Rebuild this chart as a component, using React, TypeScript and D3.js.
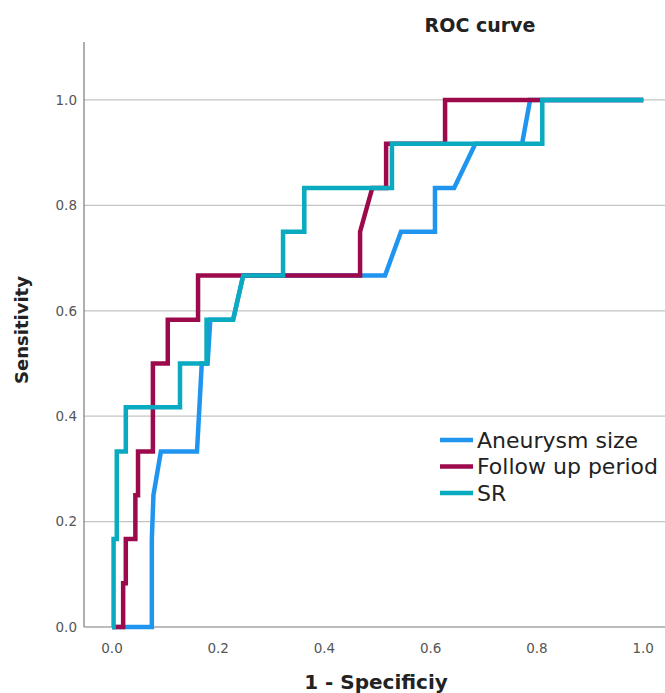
import React, { useRef, useEffect } from 'react'
import * as d3 from 'd3'

// ROC points (1 - specificity, sensitivity)
const fprAneurysm = [0, 0.075, 0.075, 0.078, 0.092, 0.16, 0.169, 0.18, 0.185, 0.228, 0.247, 0.514, 0.544, 0.608, 0.608, 0.644, 0.684, 0.772, 0.787, 1.0]
const tprAneurysm = [0, 0, 0.167, 0.25, 0.333, 0.333, 0.5, 0.5, 0.583, 0.583, 0.667, 0.667, 0.75, 0.75, 0.833, 0.833, 0.917, 0.917, 1.0, 1.0]

const fprFollowUp = [0, 0.021, 0.021, 0.026, 0.026, 0.044, 0.044, 0.049, 0.049, 0.077, 0.077, 0.105, 0.105, 0.162, 0.162, 0.467, 0.467, 0.49, 0.516, 0.516, 0.627, 0.627, 1.0]
const tprFollowUp = [0, 0, 0.083, 0.083, 0.167, 0.167, 0.25, 0.25, 0.333, 0.333, 0.5, 0.5, 0.583, 0.583, 0.667, 0.667, 0.75, 0.833, 0.833, 0.917, 0.917, 1.0, 1.0]

const fprSR = [0, 0.003, 0.003, 0.009, 0.009, 0.026, 0.026, 0.128, 0.128, 0.178, 0.178, 0.228, 0.247, 0.322, 0.322, 0.362, 0.362, 0.527, 0.527, 0.81, 0.81, 1.0]
const tprSR = [0, 0, 0.167, 0.167, 0.333, 0.333, 0.417, 0.417, 0.5, 0.5, 0.583, 0.583, 0.667, 0.667, 0.75, 0.75, 0.833, 0.833, 0.917, 0.917, 1.0, 1.0]

const seriesNames = ['Aneurysm size', 'Follow up period', 'SR']
const seriesColors = ['#1f95ef', '#9c0a4c', '#0aaac0']
const xTicks = [0, 0.2, 0.4, 0.6, 0.8, 1.0]
const yTicks = [0, 0.2, 0.4, 0.6, 0.8, 1.0]

const W = 665
const H = 693

export default function App() {
  const svgRef = useRef(null)

  useEffect(() => {
    const svg = d3.select(svgRef.current)
    svg.selectAll('*').remove()

    const x = d3.scaleLinear().domain([-0.0527, 1.041]).range([84, 665])
    const y = d3.scaleLinear().domain([0, 1.11]).range([627, 42])
    const font = '"DejaVu Sans", sans-serif'

    // grid
    svg.append('g').selectAll('line').data(yTicks.filter(d => d > 0)).enter()
      .append('line')
      .attr('x1', x.range()[0]).attr('x2', x.range()[1])
      .attr('y1', d => y(d)).attr('y2', d => y(d))
      .attr('stroke', '#c4c4c4').attr('stroke-width', 1.3)

    // axes lines
    svg.append('line').attr('x1', x.range()[0]).attr('x2', x.range()[0])
      .attr('y1', y.range()[1]).attr('y2', y(0))
      .attr('stroke', '#7a7a7a').attr('stroke-width', 1.2)
    svg.append('line').attr('x1', x.range()[0]).attr('x2', x.range()[1])
      .attr('y1', y(0)).attr('y2', y(0))
      .attr('stroke', '#7a7a7a').attr('stroke-width', 1.2)

    // tick labels
    svg.append('g').selectAll('text').data(yTicks).enter()
      .append('text')
      .attr('x', 77).attr('y', d => y(d)).attr('dy', '0.35em')
      .attr('text-anchor', 'end')
      .attr('font-family', font).attr('font-size', 13.5).attr('fill', '#555')
      .text(d => d3.format('.1f')(d))
    svg.append('g').selectAll('text').data(xTicks).enter()
      .append('text')
      .attr('x', d => x(d)).attr('y', 653)
      .attr('text-anchor', 'middle')
      .attr('font-family', font).attr('font-size', 13.5).attr('fill', '#555')
      .text(d => d3.format('.1f')(d))

    // titles
    svg.append('text').attr('x', 480).attr('y', 32).attr('text-anchor', 'middle')
      .attr('font-family', font).attr('font-weight', 'bold').attr('font-size', 19).attr('fill', '#222')
      .text('ROC curve')
    svg.append('text').attr('x', 376).attr('y', 689).attr('text-anchor', 'middle')
      .attr('font-family', font).attr('font-weight', 'bold').attr('font-size', 20).attr('fill', '#222')
      .text('1 - Specificiy')
    svg.append('text').attr('transform', 'translate(28,330) rotate(-90)').attr('text-anchor', 'middle')
      .attr('font-family', font).attr('font-weight', 'bold').attr('font-size', 18).attr('fill', '#222')
      .text('Sensitivity')

    // curves
    const series = [
      d3.zip(fprAneurysm, tprAneurysm),
      d3.zip(fprFollowUp, tprFollowUp),
      d3.zip(fprSR, tprSR),
    ]
    const line = d3.line().x(d => x(d[0])).y(d => y(d[1]))
    svg.append('g').selectAll('path').data(series).enter()
      .append('path')
      .attr('d', d => line(d))
      .attr('fill', 'none')
      .attr('stroke', (d, i) => seriesColors[i])
      .attr('stroke-width', 4.5)
      .attr('stroke-linejoin', 'miter')

    // legend
    const lg = svg.append('g').attr('transform', 'translate(440,440)')
    const items = lg.selectAll('g').data(seriesNames).enter()
      .append('g').attr('transform', (d, i) => 'translate(0,' + i * 26.5 + ')')
    items.append('line').attr('x1', 0).attr('x2', 33).attr('y1', 0).attr('y2', 0)
      .attr('stroke', (d, i) => seriesColors[i]).attr('stroke-width', 4.5)
    items.append('text').attr('x', 37).attr('y', 0).attr('dy', '0.36em')
      .attr('font-family', font).attr('font-size', 22).attr('fill', '#222')
      .text(d => d)
  }, [])

  return (
    <svg ref={svgRef} width={W} height={H} viewBox={'0 0 ' + W + ' ' + H}
      style={{ position: 'absolute', left: 0, top: 0, background: '#fff' }} />
  )
}
